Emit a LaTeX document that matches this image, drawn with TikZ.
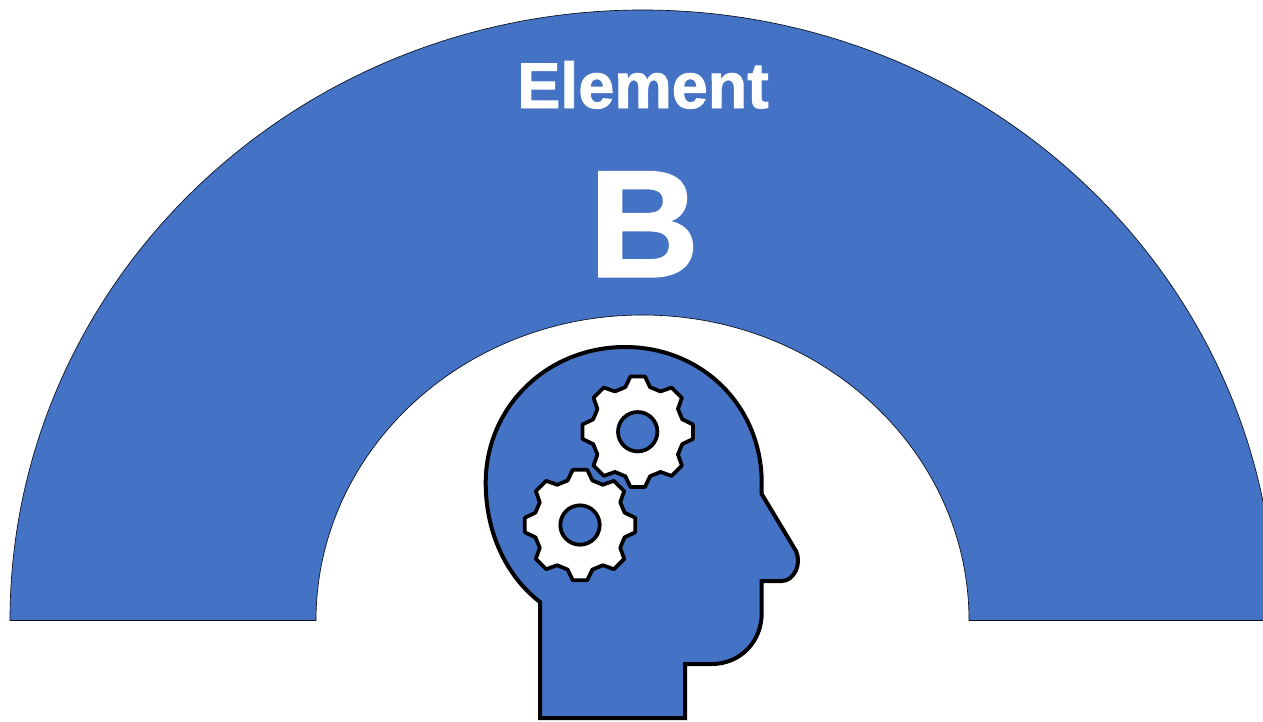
\documentclass[tikz,border=0pt]{standalone}
\usepackage{fontspec}
\setmainfont{Liberation Sans}
\newfontfamily\titlefont[FakeBold=1.5]{Liberation Sans Bold}
\usetikzlibrary{calc}
\definecolor{archblue}{HTML}{4472C4}
\tikzset{
  headline/.style={draw=black,line width=3pt,fill=archblue,line join=miter},
  gearline/.style={draw=black,line width=2.8pt,fill=white,line join=round},
  holeline/.style={draw=black,line width=2.8pt,fill=archblue},
  archline/.style={draw=black!85!archblue,line width=0.5pt,fill=archblue},
  titletext/.style={text=white,inner sep=0pt,anchor=base}
}
\newcommand{\gearpath}[2]{%
  \path[gearline] ($(#1)+(-15.5:#2*0.83)$)
    \foreach \a in {0,45,...,315} {
      -- ($(#1)+({\a-15.5}:#2*0.83)$) -- ($(#1)+({\a-7.5}:#2)$) -- ($(#1)+({\a+7.5}:#2)$) -- ($(#1)+({\a+15.5}:#2*0.83)$) -- ($(#1)+({\a+29.5}:#2*0.83)$)
    } -- cycle;
}
\begin{document}
\begin{tikzpicture}[x=0.75pt,y=-0.75pt]
\useasboundingbox (0,0) rectangle (1263,721);
\begin{scope}
\clip (0,0) rectangle (1263,721);
\fill[white] (0,0) rectangle (1263,721);
\path[archline] (10,620.5) arc[start angle=180,end angle=0,x radius=632.5,y radius=-610.5]
  -- (969,620.5) arc[start angle=0,end angle=180,x radius=326.5,y radius=-305.5] -- cycle;
\end{scope}
\node[titletext,font=\titlefont\fontsize{48.5pt}{48.5pt}\selectfont] (elem) at (643,108) {Element};
\node[titletext,font=\titlefont\fontsize{114pt}{114pt}\selectfont] (letter) at (644,276.5) {B};
\path[headline] (540,718) -- (540,602)
  .. controls (506,576) and (485.7,532) .. (485.7,483)
  .. controls (485.7,406) and (548,347) .. (625,347)
  .. controls (702,347) and (761.7,406) .. (761.7,483)
  -- (761.7,494) -- (796,551)
  .. controls (802,564) and (794,581) .. (781.7,581)
  -- (761.7,581) -- (761.7,613)
  .. controls (761.7,642) and (740,664) .. (711.7,664)
  -- (685,664) -- (685,718) -- cycle;
\coordinate (gearA) at (637.7,431.7);
\coordinate (gearB) at (580,525);
\gearpath{gearA}{55.7}
\gearpath{gearB}{55.7}
\path[holeline] (gearA) circle[radius=19.7];
\path[holeline] (gearB) circle[radius=19.7];
\end{tikzpicture}
\end{document}
